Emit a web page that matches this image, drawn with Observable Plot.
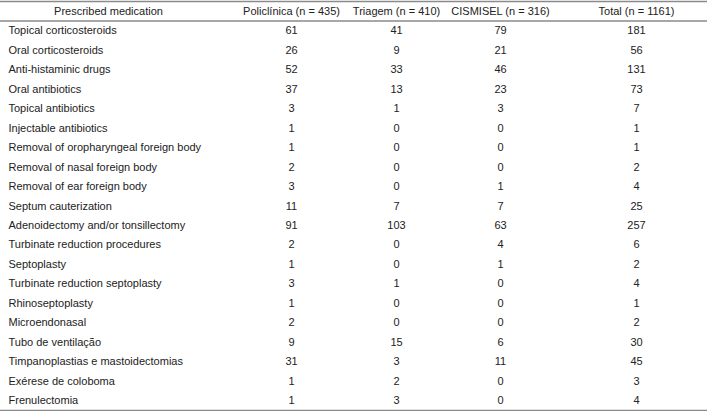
<!DOCTYPE html>
<html>
<head>
<meta charset="utf-8">
<script src="https://cdn.jsdelivr.net/npm/d3@7"></script>
<script src="https://cdn.jsdelivr.net/npm/@observablehq/plot@0.6"></script>
<style>
  html, body { margin: 0; padding: 0; background: #fff; }
  svg { display: block; }
</style>
</head>
<body>
<div id="chart"></div>
<script>
const headers = ["Prescribed medication", "Policlínica (n = 435)", "Triagem (n = 410)", "CISMISEL (n = 316)", "Total (n = 1161)"];
const medications = [
  "Topical corticosteroids", "Oral corticosteroids", "Anti-histaminic drugs", "Oral antibiotics",
  "Topical antibiotics", "Injectable antibiotics", "Removal of oropharyngeal foreign body",
  "Removal of nasal foreign body", "Removal of ear foreign body", "Septum cauterization",
  "Adenoidectomy and/or tonsillectomy", "Turbinate reduction procedures", "Septoplasty",
  "Turbinate reduction septoplasty", "Rhinoseptoplasty", "Microendonasal", "Tubo de ventilação",
  "Timpanoplastias e mastoidectomias", "Exérese de coloboma", "Frenulectomia"
];
const policlinica = [61, 26, 52, 37, 3, 1, 1, 2, 3, 11, 91, 2, 1, 3, 1, 2, 9, 31, 1, 1];
const triagem     = [41, 9, 33, 13, 1, 0, 0, 0, 0, 7, 103, 0, 0, 1, 0, 0, 15, 3, 2, 3];
const cismisel    = [79, 21, 46, 23, 3, 0, 0, 0, 1, 7, 63, 4, 1, 0, 0, 0, 6, 11, 0, 0];
const total       = [181, 56, 131, 73, 7, 1, 1, 2, 4, 25, 257, 6, 2, 4, 1, 2, 30, 45, 3, 4];

// layout: column centre positions (in pixels of the 707-wide table)
const columnCentres = [108, 291, 396, 500, 636];
const labelLeft = 8;

const valueCols = [policlinica, triagem, cismisel, total];
const cells = [];
medications.forEach((m, i) => {
  valueCols.forEach((col, j) => cells.push({row: i + 1, col: j + 1, value: col[i]}));
});
const headerCells = headers.map((h, j) => ({row: 0, col: j, label: h}));
const labelCells = medications.map((m, i) => ({row: i + 1, label: m}));
const nRows = medications.length + 1;

const font = "Liberation Sans, Arial, Helvetica, sans-serif";
const chart = Plot.plot({
  width: 707,
  height: 411,
  margin: 0,
  style: {fontFamily: font, fontSize: "11px", color: "#222", background: "#fff"},
  x: {type: "linear", domain: [0, 707], range: [0, 707], axis: null},
  y: {type: "linear", domain: [-0.5, nRows - 0.5], range: [1, 410], axis: null},
  marks: [
    Plot.ruleY([-0.5, 0.5, nRows - 0.5], {stroke: "#8a8a8a", strokeWidth: 1.5}),
    Plot.text(headerCells, {x: d => columnCentres[d.col], y: "row", text: "label", textAnchor: "middle", fill: "#222", fontSize: 11}),
    Plot.text(labelCells, {x: () => labelLeft, y: "row", text: "label", textAnchor: "start", fill: "#222", fontSize: 11}),
    Plot.text(cells, {x: d => columnCentres[d.col], y: "row", text: d => String(d.value), textAnchor: "middle", fill: "#222", fontSize: 11})
  ]
});
document.getElementById("chart").append(chart);
</script>
</body>
</html>
